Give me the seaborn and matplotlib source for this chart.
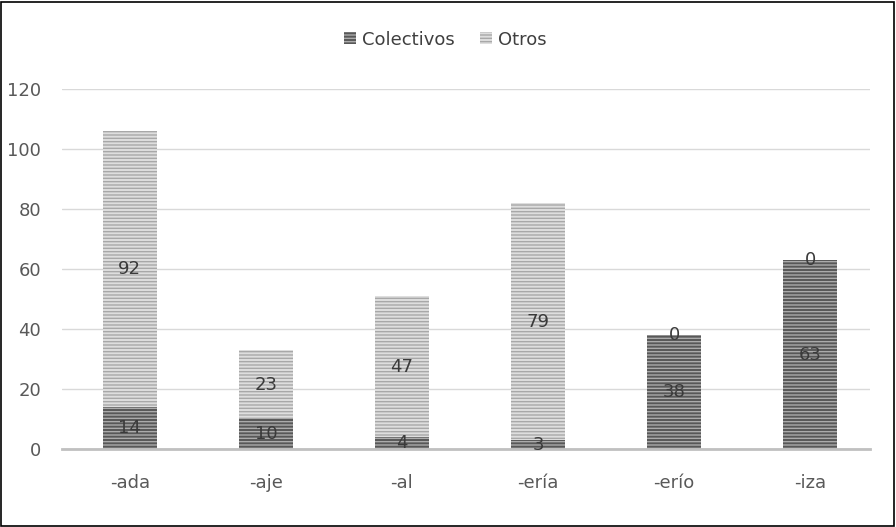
import matplotlib
matplotlib.use("Agg")
import matplotlib.pyplot as plt
import matplotlib.patches as mpatches
import seaborn as sns
import pandas as pd

sufijos = ["-ada", "-aje", "-al", "-ería", "-erío", "-iza"]
colectivos = [14, 10, 4, 3, 38, 63]
otros = [92, 23, 47, 79, 0, 0]

sns.set_theme(style="white")
plt.rcParams["font.family"] = ["DejaVu Sans"]
plt.rcParams["hatch.linewidth"] = 1.0

df = pd.DataFrame({"sufijo": sufijos, "Colectivos": colectivos, "Otros": otros})
df["total"] = df["Colectivos"] + df["Otros"]

fig = plt.figure(figsize=(8.96, 5.27), dpi=100)
ax = fig.add_axes([0.069, 0.148, 0.902, 0.683])

# light (Otros) bars are drawn as totals, dark bars laid over them
sns.barplot(data=df, x="sufijo", y="total", color="#dedede", width=0.4,
            saturation=1, ax=ax, edgecolor="#a8a8a8", linewidth=0, hatch="-----", zorder=2)
sns.barplot(data=df, x="sufijo", y="Colectivos", color="#585858", width=0.4,
            saturation=1, ax=ax, edgecolor="#ababab", linewidth=0, hatch="-----", zorder=3)

for i, (c, o) in enumerate(zip(colectivos, otros)):
    ax.text(i, c / 2, str(c), ha="center", va="center", fontsize=13, color="#3a3a3a", zorder=5)
    ax.text(i, c + o / 2, str(o), ha="center", va="center", fontsize=13, color="#3a3a3a", zorder=5)

ax.set_ylim(0, 120)
ax.set_xlim(-0.5, 5.44)
ax.set_yticks(range(0, 121, 20))
ax.yaxis.grid(True, color="#d9d9d9", linewidth=1, zorder=0)
ax.set_axisbelow(True)
for s in ["top", "right", "left"]:
    ax.spines[s].set_visible(False)
ax.spines["bottom"].set_color("#c0c0c0")
ax.spines["bottom"].set_linewidth(2)
ax.spines["bottom"].set_zorder(4)
ax.tick_params(axis="both", length=0, labelsize=13, colors="#595959")
ax.tick_params(axis="x", pad=18)
ax.tick_params(axis="y", pad=15)
ax.set_xlabel("")
ax.set_ylabel("")

h1 = mpatches.Patch(facecolor="#585858", edgecolor="#ababab", linewidth=0, hatch="-----")
h2 = mpatches.Patch(facecolor="#dedede", edgecolor="#a8a8a8", linewidth=0, hatch="-----")
leg = fig.legend([h1, h2], ["Colectivos", "Otros"], loc="center", bbox_to_anchor=(0.497, 0.925),
                 ncol=2, frameon=False, fontsize=13, handlelength=0.65, handleheight=0.65,
                 handletextpad=0.35, columnspacing=1.4)
for t in leg.get_texts():
    t.set_color("#404040")

fig.patches.append(mpatches.Rectangle((0.001, 0.002), 0.997, 0.995, transform=fig.transFigure,
                                      fill=False, edgecolor="black", linewidth=1.2))

fig.savefig("out.png", dpi=100)
